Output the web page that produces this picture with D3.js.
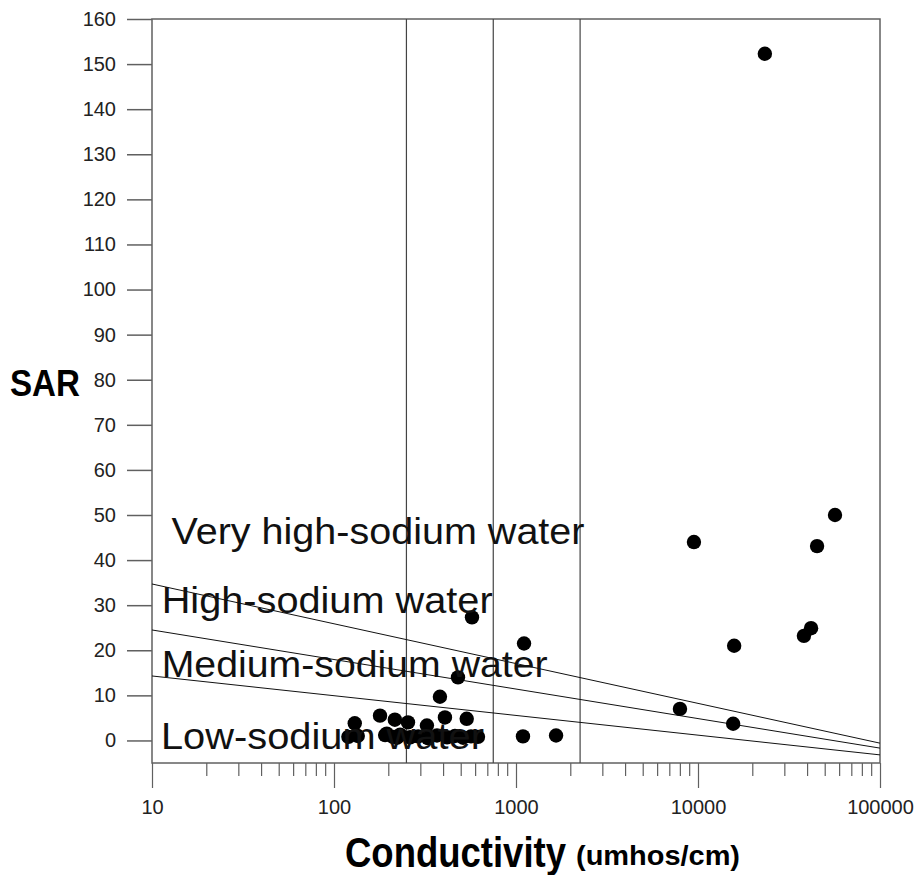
<!DOCTYPE html>
<html>
<head>
<meta charset="utf-8">
<script src="https://cdn.jsdelivr.net/npm/d3@7"></script>
<style>
  body { margin: 0; background: #fff; }
  svg { display: block; }
</style>
</head>
<body>
<svg id="chart" width="919" height="875"></svg>
<script>
// sample points: conductivity (umhos/cm) and SAR
var conductivity = [23300, 9500, 56600, 45100, 41800, 38200, 15800, 7960, 15600,
  1107, 1660, 1092, 573, 480, 382,
  130, 120, 135, 179, 216, 255, 324, 407, 536,
  191, 211, 222, 231, 262, 290, 328, 368, 418, 462, 512, 566, 618, 195];
var sar = [152.3, 44.0, 50.0, 43.1, 24.9, 23.2, 21.0, 7.0, 3.7,
  21.5, 1.1, 0.9, 27.3, 14.0, 9.7,
  3.8, 0.8, 1.0, 5.5, 4.6, 4.0, 3.3, 5.1, 4.8,
  1.2, 0.8, 0.6, 1.3, 0.7, 0.9, 0.5, 1.1, 0.7, 1.0, 0.6, 0.9, 0.8, 1.5];

// salinity class boundaries
var ecBounds = [250, 750, 2250];

// sodium hazard boundary lines: [ec, sar] end points
var sodiumLines = [
  [[10, 34.7], [100000, -0.6]],
  [[10, 24.5], [100000, -1.7]],
  [[10, 14.3], [100000, -3.2]]
];

var regionLabels = ["Very high-sodium water", "High-sodium water", "Medium-sodium water", "Low-sodium water"];
var regionSar = [43.5, 28.2, 14.0, -1.9];
var regionEc = [12.8, 11.3, 11.3, 11.2];
var regionWidth = [413, 331, 386, 323];

var yTicks = d3.range(0, 161, 10);
var xTicks = [10, 100, 1000, 10000, 100000];

var plotLeft = 152, plotRight = 880, plotTop = 19, plotBottom = 763;
var svg = d3.select("#chart");

var x = d3.scaleLog().domain([10, 100000]).range([plotLeft, plotRight]);
var y = d3.scaleLinear().domain([-5, 160]).range([plotBottom, plotTop]);

var axisColor = "#606060";

// minor ticks on x axis
var minor = [];
for (var e = 1; e < 5; e++) {
  for (var m = 2; m < 10; m++) minor.push(m * Math.pow(10, e));
}

var xAxis = d3.axisBottom(x).tickValues(xTicks).tickFormat(d3.format("d")).tickSize(25).tickPadding(12);
var gx = svg.append("g").attr("transform", "translate(0," + plotBottom + ")").call(xAxis);
gx.selectAll(".minor")
  .data(minor)
  .enter()
  .append("line")
  .attr("class", "minor")
  .attr("x1", function(d) { return x(d); })
  .attr("x2", function(d) { return x(d); })
  .attr("y1", 0)
  .attr("y2", 13);
gx.selectAll("line").attr("stroke", axisColor).attr("stroke-width", 1.2);
gx.select(".domain").remove();
gx.selectAll("text")
  .attr("font-family", "Liberation Sans, Arial, sans-serif")
  .attr("font-size", 20)
  .attr("fill", "#222");

var yAxis = d3.axisLeft(y).tickValues(yTicks).tickSize(25).tickPadding(11);
var gy = svg.append("g").attr("transform", "translate(" + plotLeft + ",0)").call(yAxis);
gy.select(".domain").remove();
gy.selectAll("line").attr("stroke", axisColor).attr("stroke-width", 1.5);
gy.selectAll("text")
  .attr("font-family", "Liberation Sans, Arial, sans-serif")
  .attr("font-size", 20)
  .attr("fill", "#222");

// frame
svg.append("rect")
  .attr("x", plotLeft).attr("y", plotTop)
  .attr("width", plotRight - plotLeft).attr("height", plotBottom - plotTop)
  .attr("fill", "none")
  .attr("stroke", axisColor)
  .attr("stroke-width", 1.5);

// salinity class boundaries
svg.selectAll(".ecb")
  .data(ecBounds)
  .enter()
  .append("line")
  .attr("x1", function(d) { return x(d); })
  .attr("x2", function(d) { return x(d); })
  .attr("y1", plotTop)
  .attr("y2", plotBottom)
  .attr("stroke", "#444")
  .attr("stroke-width", 1.2);

// sodium hazard lines
var line = d3.line()
  .x(function(d) { return x(d[0]); })
  .y(function(d) { return y(d[1]); });
svg.selectAll(".sod")
  .data(sodiumLines)
  .enter()
  .append("path")
  .attr("d", line)
  .attr("fill", "none")
  .attr("stroke", "#111")
  .attr("stroke-width", 1);

// points
svg.selectAll(".pt")
  .data(conductivity)
  .enter()
  .append("circle")
  .attr("cx", function(d) { return x(d); })
  .attr("cy", function(d, i) { return y(sar[i]); })
  .attr("r", 7.2)
  .attr("fill", "#000");

// region labels
svg.selectAll(".reg")
  .data(regionLabels)
  .enter()
  .append("text")
  .attr("x", function(d, i) { return x(regionEc[i]); })
  .attr("y", function(d, i) { return y(regionSar[i]); })
  .attr("font-family", "Liberation Sans, Arial, sans-serif")
  .attr("font-size", 36)
  .attr("textLength", function(d, i) { return regionWidth[i]; })
  .attr("lengthAdjust", "spacingAndGlyphs")
  .attr("fill", "#111")
  .text(function(d) { return d; });

// axis titles
svg.append("text")
  .attr("x", 10).attr("y", 396)
  .attr("font-family", "Liberation Sans, Arial, sans-serif")
  .attr("font-weight", "bold")
  .attr("font-size", 36)
  .attr("textLength", 70)
  .attr("lengthAdjust", "spacingAndGlyphs")
  .text("SAR");

svg.append("text")
  .attr("transform", "translate(345,867) scale(1,1.2)")
  .attr("font-family", "Liberation Sans, Arial, sans-serif")
  .attr("font-weight", "bold")
  .attr("font-size", 36)
  .attr("textLength", 221)
  .attr("lengthAdjust", "spacingAndGlyphs")
  .text("Conductivity");

svg.append("text")
  .attr("x", 576).attr("y", 865)
  .attr("font-family", "Liberation Sans, Arial, sans-serif")
  .attr("font-weight", "bold")
  .attr("font-size", 27)
  .attr("textLength", 164)
  .attr("lengthAdjust", "spacingAndGlyphs")
  .text("(umhos/cm)");
</script>
</body>
</html>
